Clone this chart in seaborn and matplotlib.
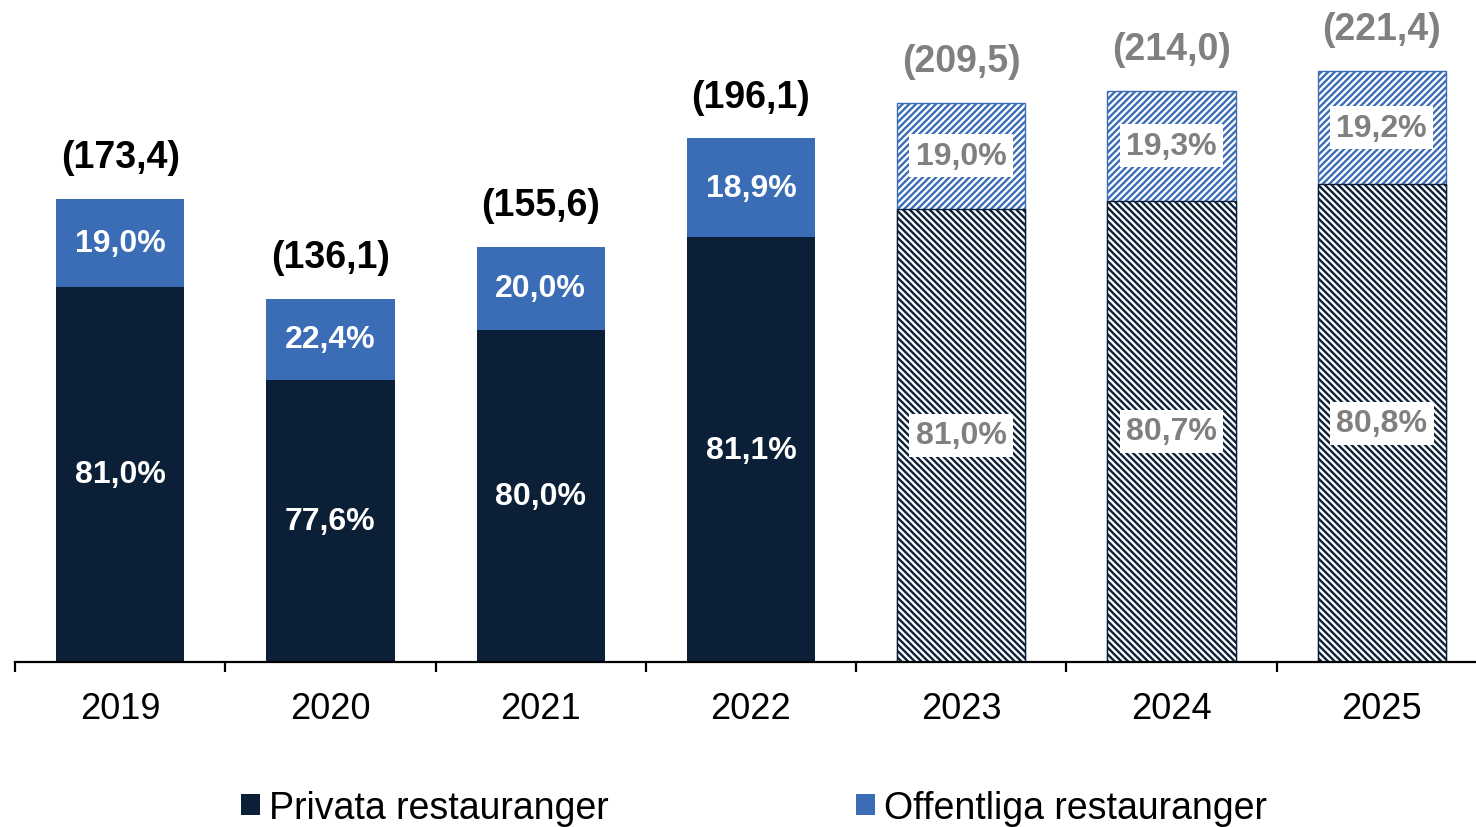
import matplotlib
matplotlib.use("Agg")
import matplotlib.pyplot as plt
import seaborn as sns
from matplotlib.patches import Patch
from matplotlib.ticker import FixedLocator

# Data
years = ["2019", "2020", "2021", "2022", "2023", "2024", "2025"]
totals = [173.4, 136.1, 155.6, 196.1, 209.5, 214.0, 221.4]
private_share = [81.0, 77.6, 80.0, 81.1, 81.0, 80.7, 80.8]
public_share = [19.0, 22.4, 20.0, 18.9, 19.0, 19.3, 19.2]
forecast = [False, False, False, False, True, True, True]
total_labels = ["(173,4)", "(136,1)", "(155,6)", "(196,1)", "(209,5)", "(214,0)", "(221,4)"]
private_labels = ["81,0%", "77,6%", "80,0%", "81,1%", "81,0%", "80,7%", "80,8%"]
public_labels = ["19,0%", "22,4%", "20,0%", "18,9%", "19,0%", "19,3%", "19,2%"]

private_vals = [t * p / 100 for t, p in zip(totals, private_share)]

navy = "#0b1f36"
blue = "#3a6db5"
grey = "#808080"

sns.set_style("white")
plt.rcParams["font.family"] = ["Liberation Sans", "DejaVu Sans"]
plt.rcParams["hatch.linewidth"] = 1.7

fig = plt.figure(figsize=(14.76, 8.28), dpi=100)
ax = fig.add_axes([0.0102, 0.1993, 0.99, 0.8007])

# stacked bars: total (public colour) then private on top
sns.barplot(x=years, y=totals, color=blue, saturation=1, width=0.61, ax=ax)
sns.barplot(x=years, y=private_vals, color=navy, saturation=1, width=0.61, ax=ax)

patches = ax.patches
n = len(years)
for i in range(n):
    if forecast[i]:
        top = patches[i]
        top.set_facecolor("white")
        top.set_edgecolor(blue)
        top.set_hatch("/////")
        top.set_linewidth(1.0)
        bot = patches[n + i]
        bot.set_facecolor("white")
        bot.set_edgecolor(navy)
        bot.set_hatch("\\\\\\\\\\")
        bot.set_linewidth(1.0)
    else:
        patches[i].set_linewidth(0)
        patches[n + i].set_linewidth(0)

# labels
for i in range(n):
    col = grey if forecast[i] else "black"
    ax.annotate(total_labels[i], (i, totals[i]), xytext=(0, 30), textcoords="offset points",
                ha="center", va="center", fontsize=27, fontweight="bold", color=col)
    priv = private_vals[i]
    pub_mid = priv + (totals[i] - priv) / 2
    if forecast[i]:
        box = dict(boxstyle="square,pad=0.2", facecolor="white", edgecolor="none")
        ax.text(i, priv / 2, private_labels[i], ha="center", va="center", fontsize=23,
                fontweight="bold", color=grey, bbox=box)
        ax.text(i, pub_mid, public_labels[i], ha="center", va="center", fontsize=23,
                fontweight="bold", color=grey, bbox=box)
    else:
        ax.text(i, priv / 2, private_labels[i], ha="center", va="center", fontsize=23,
                fontweight="bold", color="white")
        ax.text(i, pub_mid, public_labels[i], ha="center", va="center", fontsize=23,
                fontweight="bold", color="white")

ax.set_ylim(0, 248.3)
ax.set_xlim(-0.5, 6.45)
ax.set_yticks([])
ax.set_xlabel("")
ax.set_ylabel("")
for s in ["left", "right", "top"]:
    ax.spines[s].set_visible(False)
ax.spines["bottom"].set_linewidth(1.6)
ax.spines["bottom"].set_color("black")

ax.xaxis.set_minor_locator(FixedLocator([i - 0.5 for i in range(n + 1)]))
ax.tick_params(axis="x", which="major", length=0, labelsize=26, pad=21, labelcolor="black")
ax.tick_params(axis="x", which="minor", length=7, width=1.6, color="black", direction="out", bottom=True)

handles = [Patch(facecolor=navy, edgecolor="none"), Patch(facecolor=blue, edgecolor="none")]
fig.legend(handles, ["Privata restauranger", "Offentliga restauranger"], loc="center",
           bbox_to_anchor=(0.511, 0.023), ncol=2, frameon=False, fontsize=27, labelcolor="black",
           handlelength=0.5, handleheight=0.5, handletextpad=0.25, columnspacing=6.6)

fig.savefig("out.png", dpi=100)
